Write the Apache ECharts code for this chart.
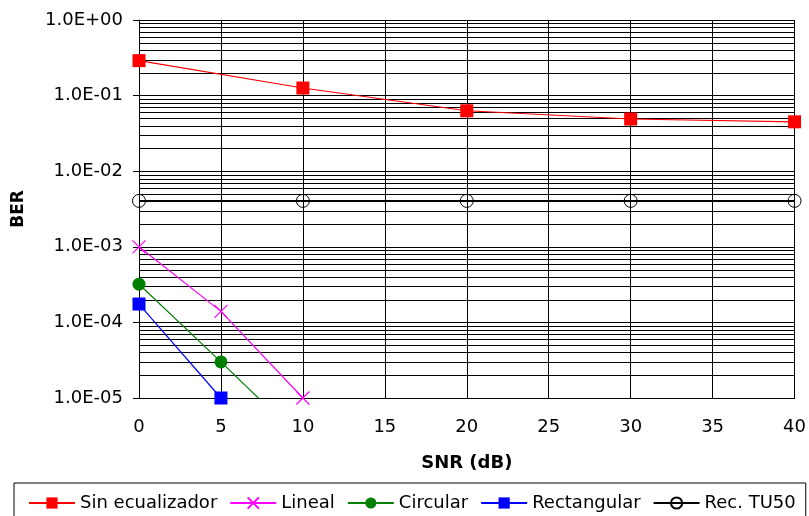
<!DOCTYPE html>
<html>
<head>
<meta charset="utf-8">
<script src="https://cdn.jsdelivr.net/npm/echarts@6/dist/echarts.min.js"></script>
<style>html,body{margin:0;padding:0;background:#fff}#c{width:809px;height:516px}</style>
</head>
<body>
<div id="c"></div>
<script>
var sinEcualizador = [[0, 0.29], [10, 0.126], [20, 0.063], [30, 0.049], [40, 0.045]];
var lineal = [[0, 1.0e-3], [5, 1.4e-4], [10, 1.0e-5]];
var circular = [[0, 3.2e-4], [5, 3.0e-5], [10, 2.7e-6]];
var rectangular = [[0, 1.75e-4], [5, 1.0e-5]];
var recTU50 = [[0, 4.05e-3], [10, 4.05e-3], [20, 4.05e-3], [30, 4.05e-3], [40, 4.05e-3]];
var legendNames = ['Sin ecualizador', 'Lineal', 'Circular', 'Rectangular', 'Rec. TU50'];
var xMin = 0, xMax = 40, xStep = 5;
var yMin = 1e-5, yMax = 1;

var FONT = 'DejaVu Sans';
var minorLines = [];
for (var d = -5; d < 0; d++) {
  for (var k = 2; k <= 9; k++) minorLines.push([xMin, k * Math.pow(10, d), xMax]);
}
function fmt(v) {
  var e = Math.round(Math.log10(v));
  var s = e < 0 ? '-' : '+';
  var a = Math.abs(e);
  return '1.0E' + s + (a < 10 ? '0' : '') + a;
}
var xPath = 'path://M0,0L10,10M10,0L0,10';
var chart = echarts.init(document.getElementById('c'), null, {renderer: 'canvas'});
chart.setOption({
  animation: false,
  backgroundColor: '#fff',
  grid: {left: 139, right: 14, top: 20, bottom: 118, containLabel: false},
  legend: {
    left: 14, top: 483, width: 810, padding: [11, 10, 20, 14],
    borderColor: '#000', borderWidth: 1,
    itemWidth: 46, itemHeight: 14, itemGap: 12,
    textStyle: {fontFamily: FONT, fontSize: 18, color: '#000'},
    data: legendNames
  },
  xAxis: {
    type: 'value', min: xMin, max: xMax, interval: xStep,
    name: 'SNR (dB)', nameLocation: 'middle', nameGap: 56,
    nameTextStyle: {fontFamily: FONT, fontSize: 18, fontWeight: 'bold', color: '#000'},
    axisLine: {show: true, lineStyle: {color: '#000', width: 1}},
    axisTick: {show: false},
    axisLabel: {fontFamily: FONT, fontSize: 18, color: '#000', margin: 20},
    splitLine: {show: true, lineStyle: {color: '#000', width: 1}}
  },
  yAxis: {
    type: 'log', logBase: 10, min: yMin, max: yMax,
    name: 'BER', nameLocation: 'middle', nameGap: 112,
    nameTextStyle: {fontFamily: FONT, fontSize: 17, fontWeight: 'bold', color: '#000'},
    axisLine: {show: true, lineStyle: {color: '#000', width: 1}},
    axisTick: {show: true, length: 6, lineStyle: {color: '#000'}},
    axisLabel: {fontFamily: FONT, fontSize: 18, color: '#000', margin: 16, formatter: fmt},
    splitLine: {show: true, lineStyle: {color: '#000', width: 1}}
  },
  series: [
    {
      name: 'minor', type: 'custom', z: 1, silent: true,
      encode: {x: [0, 2], y: 1},
      data: minorLines,
      renderItem: function (params, api) {
        var p1 = api.coord([api.value(0), api.value(1)]);
        var p2 = api.coord([api.value(2), api.value(1)]);
        var y = Math.round(p1[1]) + 0.5;
        return {type: 'line', shape: {x1: p1[0], y1: y, x2: p2[0], y2: y},
          style: {stroke: '#000', lineWidth: 1}};
      }
    },
    {
      name: 'Sin ecualizador', type: 'line', data: sinEcualizador, z: 5,
      symbol: 'rect', symbolSize: 13,
      lineStyle: {color: '#ff0000', width: 1.2},
      itemStyle: {color: '#ff0000'}
    },
    {
      name: 'Lineal', type: 'line', data: lineal, z: 5,
      symbol: xPath, symbolSize: 13,
      lineStyle: {color: '#ff00ff', width: 1.2},
      itemStyle: {color: '#ff00ff', borderColor: '#ff00ff', borderWidth: 1.2}
    },
    {
      name: 'Circular', type: 'line', data: circular, z: 5, clip: true,
      symbol: 'circle', symbolSize: 13,
      lineStyle: {color: '#008000', width: 1.2},
      itemStyle: {color: '#008000'}
    },
    {
      name: 'Rectangular', type: 'line', data: rectangular, z: 5,
      symbol: 'rect', symbolSize: 13,
      lineStyle: {color: '#0000ff', width: 1.2},
      itemStyle: {color: '#0000ff'}
    },
    {
      name: 'Rec. TU50', type: 'line', data: recTU50, z: 4,
      symbol: 'circle', symbolSize: 13,
      lineStyle: {color: '#000', width: 2},
      itemStyle: {color: 'rgba(0,0,0,0)', borderColor: '#000', borderWidth: 1}
    }
  ]
});
</script>
</body>
</html>
